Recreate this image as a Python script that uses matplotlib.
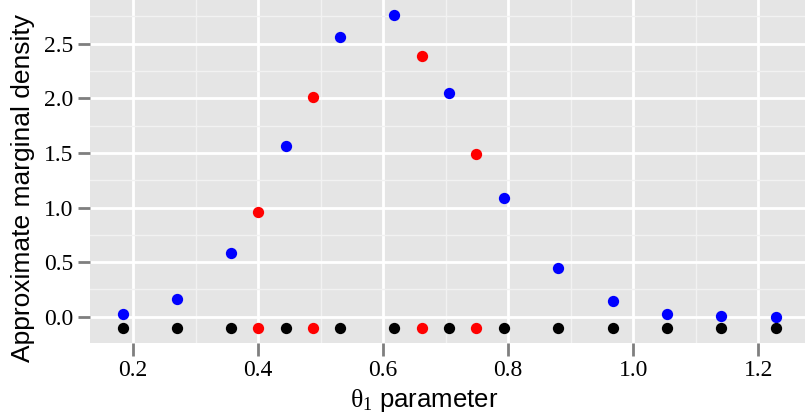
import matplotlib
matplotlib.use("Agg")
import matplotlib.pyplot as plt
import numpy as np

# grid nodes (blue) and interpolation points (red)
x_grid = [0.183, 0.270, 0.357, 0.444, 0.531, 0.618, 0.705, 0.793, 0.880, 0.967, 1.054, 1.141, 1.228]
dens_grid = [0.03, 0.16, 0.58, 1.56, 2.56, 2.76, 2.05, 1.09, 0.45, 0.14, 0.03, 0.005, -0.005]
x_interp = [0.4005, 0.4875, 0.6615, 0.749]
dens_interp = [0.96, 2.01, 2.385, 1.49]
rug_y = -0.1

plt.rcParams['mathtext.fontset'] = 'custom'
plt.rcParams['mathtext.rm'] = 'Liberation Serif'
plt.rcParams['mathtext.it'] = 'Liberation Serif:italic'

fig = plt.figure(figsize=(8.05, 4.19), dpi=100)
ax = fig.add_axes([90 / 805, 76 / 419, 715 / 805, 343 / 419])
ax.set_facecolor('#E5E5E5')

ax.set_xlim(0.131, 1.275)
ax.set_ylim(-0.24, 2.9)

ax.set_xticks([0.2, 0.4, 0.6, 0.8, 1.0, 1.2])
ax.set_xticks(np.arange(0.3, 1.25, 0.2), minor=True)
ax.set_yticks([0.0, 0.5, 1.0, 1.5, 2.0, 2.5])
ax.set_yticks([0.25, 0.75, 1.25, 1.75, 2.25, 2.75], minor=True)
ax.set_xticklabels(['0.2', '0.4', '0.6', '0.8', '1.0', '1.2'], family='Liberation Serif', fontsize=17)
ax.set_yticklabels(['0.0', '0.5', '1.0', '1.5', '2.0', '2.5'], family='Liberation Serif', fontsize=17)

ax.grid(which='major', color='white', linewidth=2)
ax.grid(which='minor', color='#F2F2F2', linewidth=1)
ax.set_axisbelow(True)
ax.tick_params(which='major', length=9, width=2, color='#7F7F7F', pad=3)
ax.tick_params(which='minor', length=0)
for s in ax.spines.values():
    s.set_visible(False)

ms = 66
ax.scatter(x_grid, dens_grid, s=ms, color='#0000FF', zorder=3, linewidths=0)
ax.scatter(x_interp, dens_interp, s=ms, color='#FF0000', zorder=3, linewidths=0)
ax.scatter(x_grid, [rug_y] * len(x_grid), s=ms, color='black', zorder=3, linewidths=0)
ax.scatter(x_interp, [rug_y] * len(x_interp), s=ms, color='#FF0000', zorder=3, linewidths=0)

ax.set_xlabel(r'$\mathrm{θ}_1$ parameter', family='Liberation Sans', fontsize=18.5)
ax.set_ylabel('Approximate marginal density', family='Liberation Sans', fontsize=19)
ax.xaxis.set_label_coords(0.467, -0.128)
ax.yaxis.set_label_coords(-0.077, 0.452)

fig.savefig('out.png', dpi=100)
